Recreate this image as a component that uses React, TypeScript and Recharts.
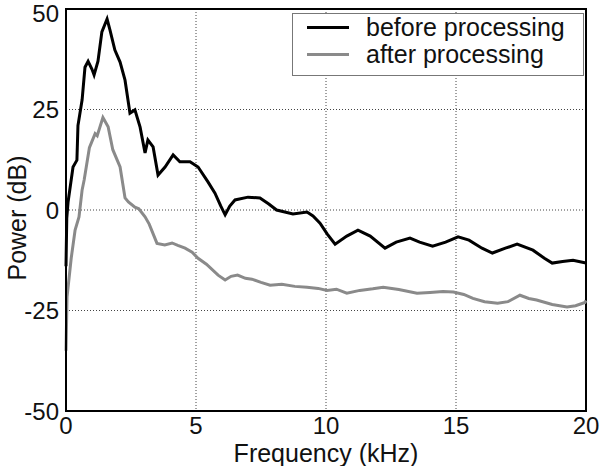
import React from "react";
import {
  LineChart,
  Line,
  XAxis,
  YAxis,
  CartesianGrid,
  Legend,
  ReferenceArea,
} from "recharts";

// spectrum readings, frequency in kHz, power in dB
const beforeFreq = [
  0, 0.03, 0.08, 0.27, 0.42, 0.46, 0.62, 0.73, 0.85, 1.0, 1.08, 1.23, 1.38,
  1.58, 1.69, 1.88, 2.08, 2.27, 2.46, 2.65, 2.85, 3.04, 3.15, 3.35, 3.54, 3.81,
  4.12, 4.38, 4.77, 5.08, 5.46, 5.73, 5.95, 6.12, 6.3, 6.5, 7.0, 7.46, 7.8, 8.1,
  8.73, 9.27, 9.5, 9.77, 10.05, 10.35, 10.8, 11.23, 11.7, 12.27, 12.7, 13.23,
  13.6, 14.1, 14.6, 15.08, 15.5, 16.0, 16.4, 16.9, 17.35, 17.96, 18.4, 18.7,
  19.1, 19.5, 20,
];
const beforePower = [
  -14, -2, 2, 10.7, 12.4, 21, 27.4, 35.5, 37, 35, 33.6, 37, 44.3, 47.5, 44.8,
  39.8, 36.8, 32.3, 24.1, 24.9, 20.6, 14.2, 17.4, 15.7, 8.7, 10.7, 13.7, 12, 12,
  10.7, 7, 4.2, 1, -1.2, 1, 2.5, 3.2, 3, 1.5, 0, -1, -0.5, -1.5, -3.3, -6, -8.5,
  -6.5, -5, -6.5, -9.5, -8, -7, -8, -9, -8, -6.7, -7.5, -9.5, -10.7, -9.5, -8.5,
  -10, -12, -13.2, -12.8, -12.5, -13.2,
];

const afterFreq = [
  0, 0.04, 0.2, 0.35, 0.5, 0.62, 0.7, 0.9, 1.12, 1.2, 1.42, 1.62, 1.8, 2.08,
  2.27, 2.4, 2.65, 2.8, 3.04, 3.2, 3.5, 3.8, 4.08, 4.3, 4.58, 4.85, 5.08, 5.4,
  5.85, 6.12, 6.35, 6.6, 6.9, 7.15, 7.5, 7.85, 8.3, 8.8, 9.27, 9.7, 10.04, 10.4,
  10.8, 11.3, 11.8, 12.2, 12.8, 13.5, 14.0, 14.5, 14.9, 15.3, 15.65, 16.1, 16.6,
  17.0, 17.46, 17.8, 18.1, 18.7, 19.27, 19.6, 19.96, 20,
];
const afterPower = [
  -35, -21.6, -12, -5, -1.7, 5, 7.5, 15.5, 19, 18.5, 23, 20.7, 15, 10.7, 3, 2,
  0.7, 0.3, -1.7, -3.5, -8.3, -8.7, -8.2, -8.8, -9.5, -10.5, -12, -13.5, -16.2,
  -17.4, -16.5, -16.2, -17, -17.2, -18, -18.7, -18.5, -19, -19.2, -19.5, -20,
  -19.7, -20.7, -20, -19.6, -19.2, -19.8, -20.7, -20.5, -20.3, -20.4, -21, -22,
  -22.8, -23.2, -22.8, -21.2, -22, -22.4, -23.5, -24.1, -23.8, -23, -22.5,
];

const seriesNames = ["before processing", "after processing"];
const xTicks = [0, 5, 10, 15, 20];
const yTicks = [-50, -25, 0, 25, 50];

const beforeData = beforeFreq.map((f, i) => ({ f, p: beforePower[i] }));
const afterData = afterFreq.map((f, i) => ({ f, p: afterPower[i] }));

const FONT = "'Liberation Sans', Arial, sans-serif";

function LegendBox({ payload }: any) {
  const items = [...(payload || [])].sort(
    (a: any, b: any) => seriesNames.indexOf(a.value) - seriesNames.indexOf(b.value)
  );
  return (
    <div
      style={{
        width: 292,
        height: 63,
        boxSizing: "border-box",
        border: "1px solid #777",
        background: "#fff",
        fontFamily: FONT,
        fontSize: 25,
        color: "#111",
      }}
    >
      {items.map((item: any) => (
        <div
          key={item.value}
          style={{ display: "flex", alignItems: "center", height: 27, lineHeight: "27px" }}
        >
          <span
            style={{
              display: "inline-block",
              marginLeft: 14,
              width: 42,
              height: 3,
              background: item.color,
            }}
          />
          <span style={{ marginLeft: 17 }}>{item.value}</span>
        </div>
      ))}
    </div>
  );
}

export default function App() {
  return (
    <div style={{ position: "absolute", left: 0, top: 0, background: "#fff" }}>
      <LineChart
        width={601}
        height={466}
        margin={{ top: 9, right: 15, bottom: 0, left: 0 }}
        style={{ fontFamily: FONT }}
      >
        <CartesianGrid stroke="#444" strokeDasharray="1 2" />
        <XAxis
          dataKey="f"
          type="number"
          domain={[0, 20]}
          ticks={xTicks}
          allowDuplicatedCategory={false}
          height={55}
          tickSize={0}
          tickMargin={6}
          tickLine={false}
          axisLine={{ stroke: "#000", strokeWidth: 2 }}
          tick={{ fill: "#111", fontSize: 24 }}
          label={{
            value: "Frequency (kHz)",
            position: "insideBottom",
            offset: 4,
            fill: "#111",
            fontSize: 25,
          }}
        />
        <YAxis
          type="number"
          domain={[-50, 50]}
          ticks={yTicks}
          width={66}
          tickSize={0}
          tickMargin={7}
          tickLine={false}
          axisLine={{ stroke: "#000", strokeWidth: 2 }}
          tick={{ fill: "#111", fontSize: 24 }}
          label={() => (
            <text
              x={17}
              y={218}
              transform="rotate(-90 17 218)"
              textAnchor="middle"
              dominantBaseline="central"
              fill="#111"
              fontSize={25}
            >
              Power (dB)
            </text>
          )}
        />
        <ReferenceArea
          x1={0}
          x2={20}
          y1={-50}
          y2={50}
          fill="none"
          fillOpacity={0}
          stroke="#000"
          strokeWidth={2}
          ifOverflow="visible"
        />
        <Legend
          layout="horizontal"
          verticalAlign="middle"
          align="center"
          content={<LegendBox />}
          wrapperStyle={{ position: "absolute", left: 292, top: 13, width: 292 }}
        />
        <Line
          name={seriesNames[0]}
          data={beforeData}
          dataKey="p"
          type="linear"
          stroke="#000"
          strokeWidth={3}
          dot={false}
          isAnimationActive={false}
        />
        <Line
          name={seriesNames[1]}
          data={afterData}
          dataKey="p"
          type="linear"
          stroke="#8a8a8a"
          strokeWidth={3}
          dot={false}
          isAnimationActive={false}
        />
      </LineChart>
    </div>
  );
}
